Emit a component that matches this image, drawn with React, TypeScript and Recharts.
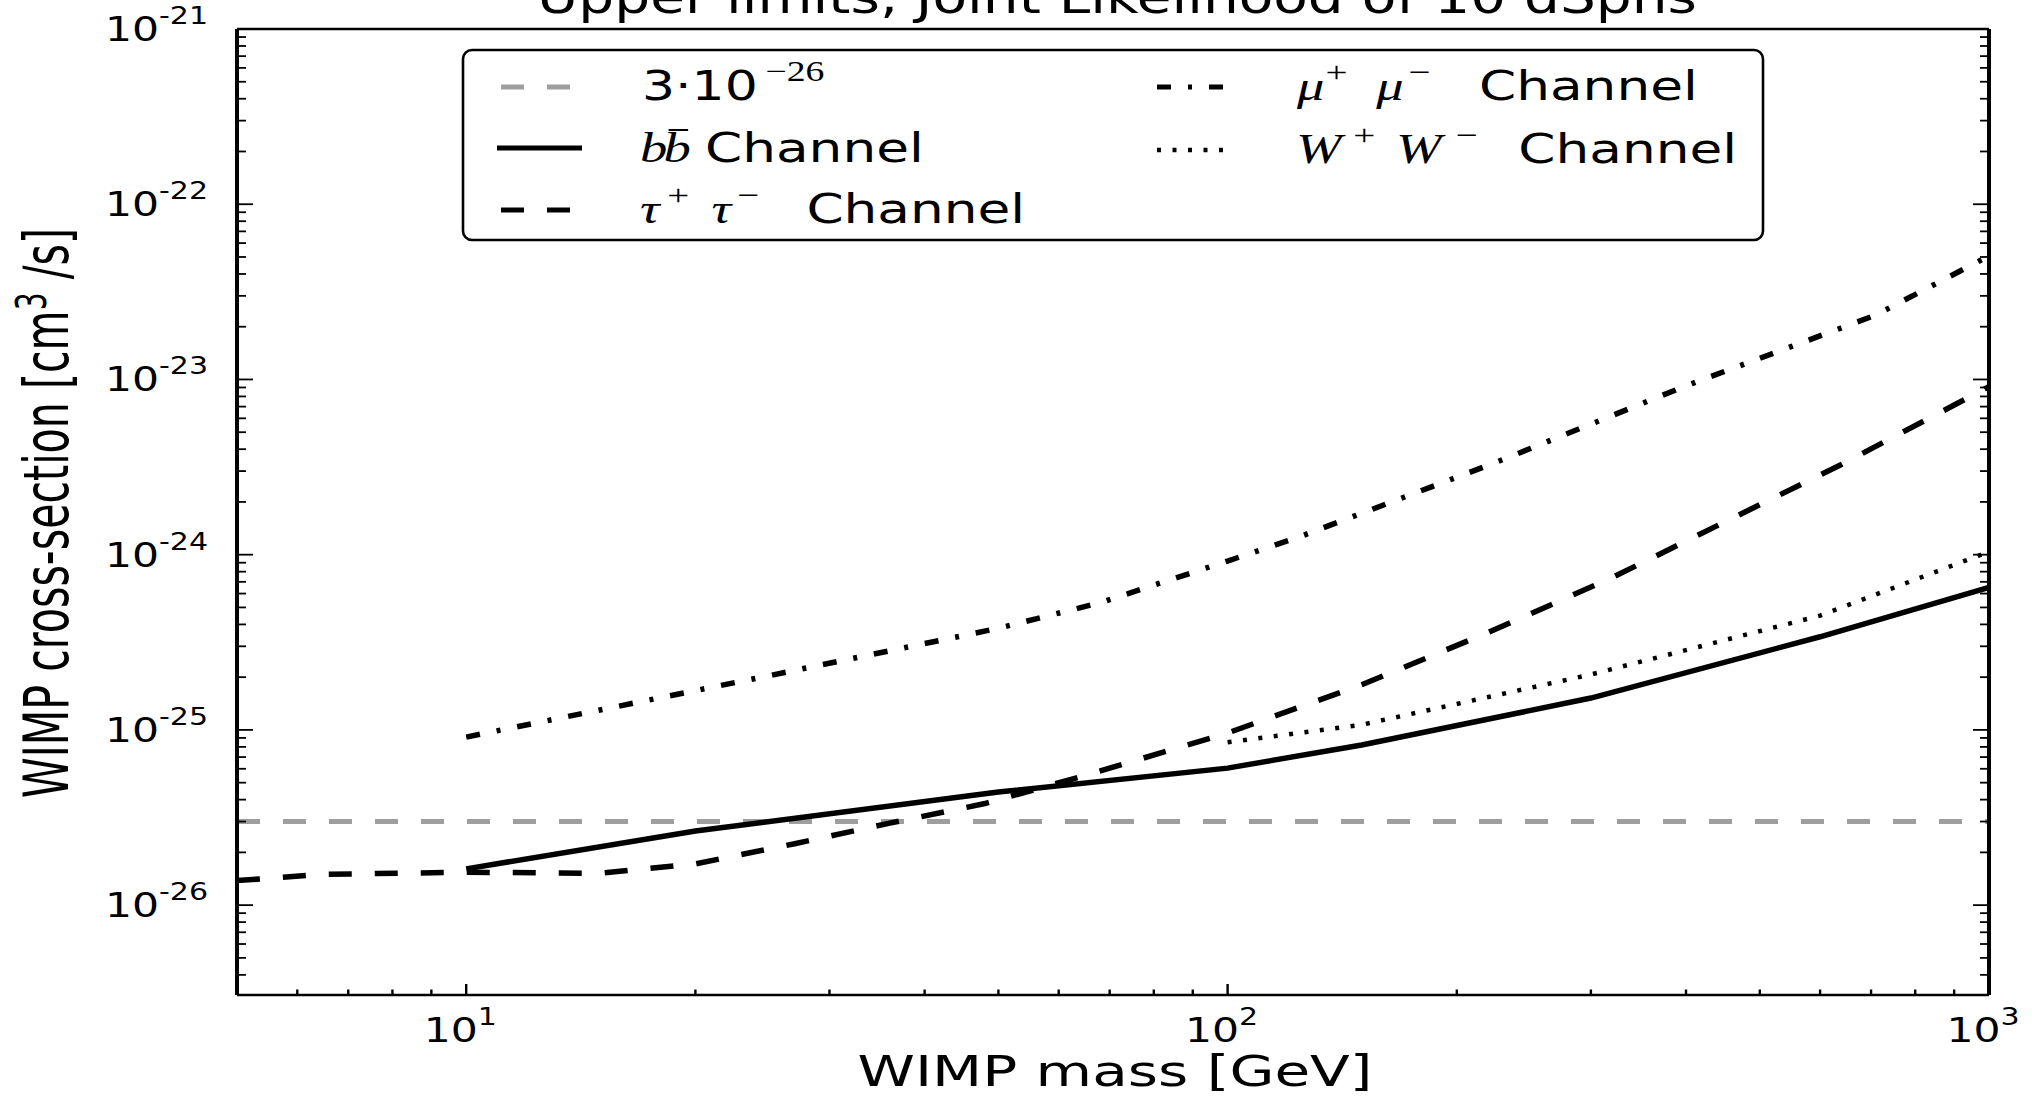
import React from 'react';
import { LineChart, Line, XAxis, YAxis } from 'recharts';

// WIMP mass [GeV] vs. upper limit on <sigma v> [cm^3/s]
const thermalMass = [5, 1000];
const thermalSigma = [3e-26, 3e-26];

const bbMass = [10, 20, 50, 100, 150, 300, 600, 1000];
const bbSigma = [1.61e-26, 2.65e-26, 4.42e-26, 6.05e-26, 8.2e-26, 1.52e-25, 3.4e-25, 6.5e-25];

const tauMass = [5, 6.5, 10, 15, 20, 27, 36, 48, 65, 100, 150, 220, 320, 450, 640, 1000];
const tauSigma = [
  1.38e-26, 1.5e-26, 1.54e-26, 1.52e-26, 1.72e-26, 2.24e-26, 2.94e-26, 3.8e-26,
  5.5e-26, 9.6e-26, 1.81e-25, 3.6e-25, 7.4e-25, 1.54e-24, 3.27e-24, 9.1e-24,
];

const muMass = [10, 25, 50, 68, 100, 124, 225, 400, 710, 1000];
const muSigma = [9.1e-26, 2.04e-25, 3.8e-25, 5.32e-25, 9.2e-25, 1.26e-24, 3.36e-24, 9.2e-24, 2.33e-23, 5.07e-23];

const wwMass = [100, 150, 300, 600, 1000];
const wwSigma = [8.5e-26, 1.07e-25, 2.07e-25, 4.49e-25, 1.04e-24];

const xDecades = [1, 10, 100, 1000];
const yDecadeExps = [-27, -26, -25, -24, -23, -22, -21];
const minorSteps = [1, 2, 3, 4, 5, 6, 7, 8, 9];

const X_DOMAIN: [number, number] = [5, 1000];
const Y_DOMAIN: [number, number] = [3.07e-27, 1e-21];

const inDomain = (v: number, d: [number, number]) => v >= d[0] * 0.999 && v <= d[1] * 1.001;

const xTicks = xDecades.flatMap((d) => minorSteps.map((s) => s * d)).filter((v) => inDomain(v, X_DOMAIN));
const yTicks = yDecadeExps
  .flatMap((e) => minorSteps.map((s) => s * Math.pow(10, e)))
  .filter((v) => inDomain(v, Y_DOMAIN));

const toRows = (xs: number[], ys: number[]) => xs.map((m, i) => ({ m, v: ys[i] }));

const thermalData = toRows(thermalMass, thermalSigma);
const bbData = toRows(bbMass, bbSigma);
const tauData = toRows(tauMass, tauSigma);
const muData = toRows(muMass, muSigma);
const wwData = toRows(wwMass, wwSigma);

const SANS = 'DejaVu Sans, Verdana, sans-serif';
const SERIF = 'Liberation Serif, DejaVu Serif, serif';

const DASHED = '23 23';
const DASH_DOT = '14 17 4 17';
const DOTTED = '4 11.5';

const logExp = (v: number) => Math.round(Math.log10(v));
const isMajor = (v: number) => Math.abs(Math.log10(v) - logExp(v)) < 1e-6;

const BottomTick = (props: any) => {
  const { x, y, payload } = props;
  const v = payload.value;
  const major = isMajor(v);
  return (
    <g>
      <line x1={x} x2={x} y1={y} y2={y - (major ? 11 : 5.5)} stroke="#000" strokeWidth={2.4} />
      {major && (
        <g transform={`translate(${x - 6},${y + 47}) scale(1.25,1)`}>
          <text textAnchor="middle" fontFamily={SANS} fontSize={34} fill="#000">
            10
            <tspan fontSize={24} dy={-17}>
              {logExp(v)}
            </tspan>
          </text>
        </g>
      )}
    </g>
  );
};

const TopTick = (props: any) => {
  const { x, y, payload } = props;
  const major = isMajor(payload.value);
  return <line x1={x} x2={x} y1={y} y2={y + (major ? 11 : 5.5)} stroke="#000" strokeWidth={2.4} />;
};

const LeftTick = (props: any) => {
  const { x, y, payload } = props;
  const v = payload.value;
  const major = isMajor(v);
  return (
    <g>
      <line x1={x} x2={x + (major ? 16 : 9)} y1={y} y2={y} stroke="#000" strokeWidth={1.8} />
      {major && (
        <g transform={`translate(208,${y + 12}) scale(1.25,1)`}>
          <text textAnchor="end" fontFamily={SANS} fontSize={34} fill="#000">
            10
            <tspan fontSize={24} dy={-17}>
              {`-${Math.abs(logExp(v))}`}
            </tspan>
          </text>
        </g>
      )}
    </g>
  );
};

const RightTick = (props: any) => {
  const { x, y, payload } = props;
  const major = isMajor(payload.value);
  return <line x1={x} x2={x - (major ? 16 : 9)} y1={y} y2={y} stroke="#000" strokeWidth={1.8} />;
};

const mathFont = { fontFamily: SERIF, fontStyle: 'italic' as const };

const LegendBox = () => (
  <g>
    <rect x={463} y={50} width={1300} height={190} rx={9} ry={9} fill="#fff" stroke="#000" strokeWidth={2.6} />
    {/* left column */}
    <line x1={501} x2={572} y1={87} y2={87} stroke="#9e9e9e" strokeWidth={5} strokeDasharray={DASHED} />
    <g transform="translate(642,100) scale(1.3,1)">
      <text fontFamily={SANS} fontSize={40} fill="#000">
        <tspan x={0} y={0}>3·10</tspan>
        <tspan x={95} y={-19} fontFamily={SERIF} fontSize={29}>−26</tspan>
      </text>
    </g>

    <line x1={497} x2={582} y1={148} y2={148} stroke="#000" strokeWidth={5} />
    <g transform="translate(640,162) scale(1.3,1)">
      <text fontSize={42} fill="#000">
        <tspan x={0} y={0} {...mathFont}>b</tspan>
        <tspan x={18} y={0} {...mathFont}>b</tspan>
        <tspan x={50} y={0} fontFamily={SANS} fontSize={41}>Channel</tspan>
      </text>
      <line x1={22} x2={37} y1={-32} y2={-32} stroke="#000" strokeWidth={2} />
    </g>

    <line x1={501} x2={572} y1={210} y2={210} stroke="#000" strokeWidth={5} strokeDasharray={DASHED} />
    <g transform="translate(640,223) scale(1.3,1)">
      <text fontSize={42} fill="#000">
        <tspan x={0} y={0} {...mathFont}>τ</tspan>
        <tspan x={21} y={-18} fontFamily={SERIF} fontSize={30}>+</tspan>
        <tspan x={55} y={0} {...mathFont}>τ</tspan>
        <tspan x={75} y={-18} fontFamily={SERIF} fontSize={30}>−</tspan>
        <tspan x={128} y={0} fontFamily={SANS} fontSize={41}>Channel</tspan>
      </text>
    </g>

    {/* right column */}
    <line x1={1157} x2={1223} y1={87} y2={87} stroke="#000" strokeWidth={5} strokeDasharray={DASH_DOT} />
    <g transform="translate(1297,100) scale(1.3,1)">
      <text fontSize={42} fill="#000">
        <tspan x={0} y={0} {...mathFont}>μ</tspan>
        <tspan x={22} y={-18} fontFamily={SERIF} fontSize={30}>+</tspan>
        <tspan x={61} y={0} {...mathFont}>μ</tspan>
        <tspan x={86} y={-18} fontFamily={SERIF} fontSize={30}>−</tspan>
        <tspan x={140} y={0} fontFamily={SANS} fontSize={41}>Channel</tspan>
      </text>
    </g>

    <line x1={1157} x2={1223} y1={150} y2={150} stroke="#000" strokeWidth={4.5} strokeDasharray={DOTTED} />
    <g transform="translate(1296,163) scale(1.3,1)">
      <text fontSize={42} fill="#000">
        <tspan x={0} y={0} {...mathFont}>W</tspan>
        <tspan x={44} y={-18} fontFamily={SERIF} fontSize={30}>+</tspan>
        <tspan x={77} y={0} {...mathFont}>W</tspan>
        <tspan x={123} y={-18} fontFamily={SERIF} fontSize={30}>−</tspan>
        <tspan x={171} y={0} fontFamily={SANS} fontSize={41}>Channel</tspan>
      </text>
    </g>
  </g>
);

const Titles = () => (
  <g fill="#000">
    {/* the title is clipped by the top edge in the original figure */}
    <text
      x={1117}
      y={12.5}
      textAnchor="middle"
      fontFamily={SANS}
      fontSize={46}
      textLength={1160}
      lengthAdjust="spacingAndGlyphs"
    >
      Upper limits, Joint Likelihood of 10 dSphs
    </text>
    <text
      x={1115}
      y={1086}
      textAnchor="middle"
      fontFamily={SANS}
      fontSize={42}
      textLength={515}
      lengthAdjust="spacingAndGlyphs"
    >
      WIMP mass [GeV]
    </text>
    <g transform="translate(68,513) rotate(-90) scale(1,1.5)">
      <text textAnchor="middle" fontFamily={SANS} fontSize={41} textLength={570} lengthAdjust="spacingAndGlyphs">
        WIMP cross-section [cm
        <tspan fontSize={28} dy={-15}>3</tspan>
        <tspan dy={15}> /s]</tspan>
      </text>
    </g>
  </g>
);

export default function App() {
  return (
    <div style={{ position: 'absolute', left: 0, top: 0, width: 2044, height: 1098, background: '#fff' }}>
      <LineChart width={2044} height={1098} margin={{ top: 28, right: 54, bottom: 102, left: 236 }}>
        <XAxis
          dataKey="m"
          type="number"
          scale="log"
          domain={X_DOMAIN}
          allowDataOverflow
          ticks={xTicks}
          interval={0}
          height={1}
          tickLine={false}
          tickSize={0}
          tickMargin={0}
          axisLine={{ stroke: '#000', strokeWidth: 2.7 }}
          tick={(p: any) => <BottomTick {...p} />}
        />
        <XAxis
          xAxisId="top"
          orientation="top"
          type="number"
          scale="log"
          domain={X_DOMAIN}
          allowDataOverflow
          ticks={xTicks}
          interval={0}
          height={1}
          tickLine={false}
          tickSize={0}
          tickMargin={0}
          axisLine={{ stroke: '#000', strokeWidth: 2.7 }}
          tick={(p: any) => <TopTick {...p} />}
        />
        <YAxis
          type="number"
          scale="log"
          domain={Y_DOMAIN}
          allowDataOverflow
          ticks={yTicks}
          interval={0}
          width={1}
          tickLine={false}
          tickSize={0}
          tickMargin={0}
          axisLine={{ stroke: '#000', strokeWidth: 4 }}
          tick={(p: any) => <LeftTick {...p} />}
        />
        <YAxis
          yAxisId="right"
          orientation="right"
          type="number"
          scale="log"
          domain={Y_DOMAIN}
          allowDataOverflow
          ticks={yTicks}
          interval={0}
          width={1}
          tickLine={false}
          tickSize={0}
          tickMargin={0}
          axisLine={{ stroke: '#000', strokeWidth: 4 }}
          tick={(p: any) => <RightTick {...p} />}
        />
        <Line data={thermalData} dataKey="v" stroke="#9e9e9e" strokeWidth={5} strokeDasharray={DASHED} dot={false} isAnimationActive={false} />
        <Line data={tauData} dataKey="v" stroke="#000" strokeWidth={5.5} strokeDasharray={DASHED} dot={false} isAnimationActive={false} />
        <Line data={muData} dataKey="v" stroke="#000" strokeWidth={5.5} strokeDasharray={DASH_DOT} dot={false} isAnimationActive={false} />
        <Line data={wwData} dataKey="v" stroke="#000" strokeWidth={4.5} strokeDasharray={DOTTED} dot={false} isAnimationActive={false} />
        <Line data={bbData} dataKey="v" stroke="#000" strokeWidth={5.5} dot={false} isAnimationActive={false} />
        <LegendBox />
        <Titles />
      </LineChart>
    </div>
  );
}
